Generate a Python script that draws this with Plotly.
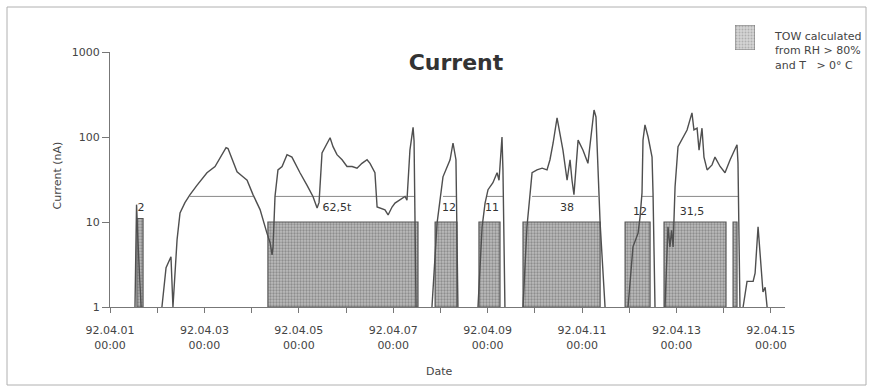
import plotly.graph_objects as go
import pandas as pd

W, H = 871, 389
T0 = pd.Timestamp("1992-04-01 00:00")

# ---- current trace: segments of (hours since 92.04.01 00:00, current nA) ----
seg_hours = [
    [12.7, 13.5, 14.2, 15.3, 15.8],
    [26.4, 28.5, 31.0, 32.0, 34.1, 35.6, 38.1, 40.7, 44.2, 49.3, 53.4, 55.9, 59.0, 60.0,
     62.5, 64.6, 67.6, 69.7, 72.7, 76.3, 79.8, 81.4, 82.4, 82.9, 83.9, 85.4, 87.5, 90.0,
     92.5, 94.1, 96.6, 100.2, 103.2, 105.3, 106.3, 107.8, 109.3, 111.9, 113.4, 115.4,
     118.0, 120.5, 123.1, 125.6, 128.1, 130.7, 132.2, 134.7, 135.8, 137.3, 139.8, 141.4,
     143.4, 144.9, 147.5, 150.0, 151.0, 152.5, 154.1, 154.6, 155.6],
    [163.7, 166.3, 169.3, 171.4, 172.9, 174.4, 175.9, 176.9],
    [187.1, 189.2, 190.7, 192.2, 194.7, 196.8, 197.8, 199.3, 199.8, 200.8],
    [210.0, 212.0, 214.6, 217.1, 219.7, 222.2, 223.7, 225.3, 227.3, 228.8, 230.3, 232.4,
     233.9, 234.9, 235.9, 238.0, 240.5, 243.0, 245.1, 246.1, 247.1, 248.1, 249.2, 251.7],
    [263.4, 265.9, 268.5, 269.5, 270.5, 271.0, 272.0, 273.6, 275.6, 276.1, 277.1],
    [282.2, 283.7, 284.7, 285.5, 286.3, 287.3, 288.8, 291.4, 293.4, 295.9, 296.9, 298.5,
     299.5, 301.0, 302.0, 303.6, 306.1, 307.6, 310.2, 312.7, 315.3, 318.8, 319.3, 320.3],
    [321.9, 323.9, 327.0, 328.0, 329.5, 331.5, 332.0, 333.1, 334.1],
]
seg_current = [
    [1, 16, 6, 1.5, 1],
    [1, 2.9, 3.9, 1, 6.2, 12.8, 16.9, 21, 27, 38, 45, 57, 75, 73,
     51, 39, 34, 31, 21, 14, 7.4, 5.7, 4.1, 5.1, 20, 41, 45, 62,
     58, 49, 38, 27, 20, 14.6, 17, 65, 75, 98, 77, 62,
     54, 45, 45, 43, 49, 54, 49, 38, 15, 14.6, 13.9, 12.1,
     15, 16.7, 18.3, 20, 18, 70, 130, 90, 1],
    [1, 9.7, 34, 45, 54, 85, 54, 1],
    [1, 8.8, 16.7, 24, 29, 38, 31, 100, 41, 1],
    [1, 8.8, 38, 41, 43, 41, 54, 85, 168, 111, 70, 31,
     54, 31, 21, 92, 70, 49, 131, 208, 172, 34, 9.7, 1],
    [1, 5.1, 7.4, 11.5, 22, 92, 139, 100, 58, 22, 1],
    [1, 8.8, 5.1, 8, 5.1, 26, 77, 100, 121, 192, 121, 127,
     70, 127, 58, 41, 47, 58, 45, 38, 54, 81, 50, 1],
    [1, 2.0, 2.0, 2.5, 8.8, 2.5, 1.5, 1.7, 1],
]

# ---- TOW periods (RH > 80 % and T > 0 C) ----
tow_start_h = [13.7, 80.3, 165.3, 187.6, 210.0, 261.9, 281.7, 316.8]
tow_end_h = [16.8, 156.6, 176.4, 198.3, 249.2, 274.6, 313.2, 318.8]
tow_level = [11, 10, 10, 10, 10, 10, 10, 10]

# ---- duration brackets (horizontal marker at 20 nA) and labels ----
bracket_start_h = [40.7, 83.9, 169.3, 191.7, 214.6, 270.5, 288.3]
bracket_end_h = [72.7, 155.1, 175.9, 199.8, 248.1, 276.1, 319.3]
bracket_level = 20
label_text = ["2", "62,5t", "12", "11", "38", "12", "31,5"]
label_h = [15.8, 115.4, 172.4, 194.2, 232.4, 269.5, 295.9]
label_val = [14.6, 14.6, 14.6, 14.6, 14.6, 12.9, 12.9]

# ---- axes ----
tick_days = list(range(0, 15))
tick_text = ["92.04.%02d<br>00:00" % (d + 1) if d % 2 == 0 else "" for d in tick_days]
y_ticks = [1, 10, 100, 1000]
y_ticktext = ["1", "10", "100", "1000"]


def ts(h):
    return T0 + pd.to_timedelta(h, unit="h")


FONT = "DejaVu Sans"
fig = go.Figure()

# TOW blocks
for s, e, lv in zip(tow_start_h, tow_end_h, tow_level):
    fig.add_trace(go.Scatter(
        x=[ts(s), ts(s), ts(e), ts(e), ts(s)], y=[1, lv, lv, 1, 1],
        mode="lines", fill="toself", fillcolor="#b4b4b4",
        fillpattern=dict(shape=".", bgcolor="#bcbcbc", fgcolor="#5e5e5e", size=3, solidity=0.45),
        line=dict(color="#555555", width=1.2), showlegend=False, hoverinfo="skip"))

# brackets
bx, by = [], []
for s, e in zip(bracket_start_h, bracket_end_h):
    bx += [ts(s), ts(e), None]
    by += [bracket_level, bracket_level, None]
fig.add_trace(go.Scatter(x=bx, y=by, mode="lines", line=dict(color="#8a8a8a", width=1),
                         showlegend=False, hoverinfo="skip"))

# current line
lx, ly = [], []
for hs, cs in zip(seg_hours, seg_current):
    lx += [ts(h) for h in hs] + [None]
    ly += list(cs) + [None]
fig.add_trace(go.Scatter(x=lx, y=ly, mode="lines", line=dict(color="#4f4f4f", width=1.4),
                         connectgaps=False, showlegend=False))

# labels
fig.add_trace(go.Scatter(x=[ts(h) for h in label_h], y=label_val, mode="text", text=label_text,
                         textfont=dict(family=FONT, size=11, color="#333333"),
                         showlegend=False, hoverinfo="skip"))

# legend swatch on its own little axes
fig.add_trace(go.Scatter(
    x=[0, 0, 1, 1, 0], y=[0, 1, 1, 0, 0], xaxis="x2", yaxis="y2",
    mode="lines", fill="toself", fillcolor="#d0d0d0",
    fillpattern=dict(shape=".", bgcolor="#d4d4d4", fgcolor="#8a8a8a", size=3, solidity=0.35),
    line=dict(color="#777777", width=1), showlegend=False, hoverinfo="skip"))

fig.update_layout(
    width=W, height=H, autosize=False,
    margin=dict(l=0, r=0, t=0, b=0, pad=0, autoexpand=False),
    paper_bgcolor="white", plot_bgcolor="white",
    font=dict(family=FONT, size=11, color="#444444"),
    title=dict(text="<b>Current</b>", x=456 / W, y=1 - 62 / H, xanchor="center", yanchor="middle",
               xref="paper", yref="paper", automargin=False,
               font=dict(family=FONT, size=22, color="#333333")),
    xaxis=dict(
        domain=[110 / W, 785 / W], type="date", automargin=False,
        range=[ts(0), ts(343.2)],
        tickmode="array", tickvals=[ts(24 * d) for d in tick_days], ticktext=tick_text,
        ticks="outside", ticklen=5, tickcolor="#777777", tickwidth=1,
        showline=True, linecolor="#777777", linewidth=1, showgrid=False, zeroline=False,
        tickfont=dict(family=FONT, size=11, color="#444444"), ticklabelstandoff=8,
    ),
    yaxis=dict(
        domain=[1 - 307 / H, 1 - 52 / H], type="log", range=[0, 3], automargin=False,
        tickmode="array", tickvals=y_ticks, ticktext=y_ticktext,
        ticks="outside", ticklen=7, tickcolor="#777777", tickwidth=1,
        showline=True, linecolor="#777777", linewidth=1, showgrid=False, zeroline=False,
        tickfont=dict(family=FONT, size=11, color="#444444"),
    ),
    xaxis2=dict(domain=[735 / W, 755 / W], range=[0, 1], visible=False, fixedrange=True,
                anchor="y2", automargin=False),
    yaxis2=dict(domain=[1 - 50 / H, 1 - 25 / H], range=[0, 1], visible=False, fixedrange=True,
                anchor="x2", automargin=False),
    showlegend=False,
    shapes=[dict(type="rect", xref="paper", yref="paper", x0=7 / W, x1=866 / W,
                 y0=1 - 385 / H, y1=1 - 7 / H, line=dict(color="#b0b0b0", width=1))],
    annotations=[
        dict(text="Current (nA)", x=48 / W, y=1 - 176 / H, xref="paper", yref="paper",
             textangle=-90, showarrow=False, font=dict(family=FONT, size=11, color="#444444")),
        dict(text="Date", x=440 / W, y=1 - 380 / H, xref="paper", yref="paper",
             showarrow=False, font=dict(family=FONT, size=11, color="#444444")),
        dict(text="TOW calculated<br>from RH &gt; 80%<br>and T   &gt; 0° C", x=772 / W, y=1 - 51 / H,
             xref="paper", yref="paper", xanchor="left", yanchor="middle", align="left",
             showarrow=False, font=dict(family=FONT, size=11, color="#444444")),
    ],
)

fig.write_html(
    "out.html",
    config={"displayModeBar": False},
    post_script="document.body.style.margin='0';document.body.style.overflow='hidden';",
)
